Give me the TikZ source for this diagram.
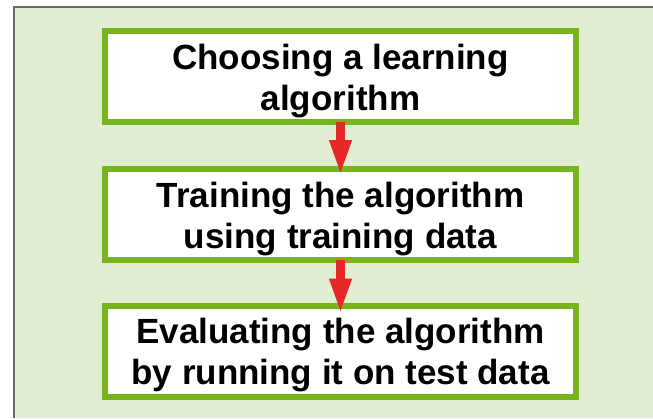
\documentclass[tikz,border=0pt]{standalone}
\usepackage{fontspec}
\usetikzlibrary{arrows.meta}
\newfontfamily\stepfont{Liberation Sans}
\definecolor{panelgreen}{RGB}{226,238,211}
\definecolor{boxgreen}{RGB}{120,180,30}
\definecolor{arrowred}{RGB}{230,40,38}
\definecolor{framegray}{RGB}{105,105,105}

\begin{document}
\begin{tikzpicture}[x=1pt,y=-1pt,
  block/.style={rectangle,draw=boxgreen,line width=6pt,fill=white,
    minimum width=471pt,minimum height=91pt,align=center,text height=75pt,
    font=\stepfont\bfseries\fontsize{35}{41}\selectfont},
  arrow/.style={draw=arrowred,line width=9pt,-{Triangle[length=36pt,width=20pt]}}]
\def\xMid{340.5}
\def\hOne{76.5}
\def\hTwo{214.5}
\def\hThree{351}
\useasboundingbox (0,0) rectangle (653,418);
  % background panel
  \fill[panelgreen] (14,7) rectangle (653,418);
  \draw[framegray,line width=2pt] (14,418) -- (14,7) -- (653,7);
\path
(\xMid,\hOne) node [block] (choose) {Choosing a learning\\algorithm}
(\xMid,\hTwo) node [block] (train) {Training the algorithm\\using training data}
(\xMid,\hThree) node [block] (eval) {Evaluating the algorithm\\by running it on test data}
;
  \draw[arrow] ([yshift=3pt]choose.south) -- ([yshift=-10pt]train.north);
  \draw[arrow] ([yshift=3pt]train.south) -- ([yshift=-12pt]eval.north);
\end{tikzpicture}
\end{document}
